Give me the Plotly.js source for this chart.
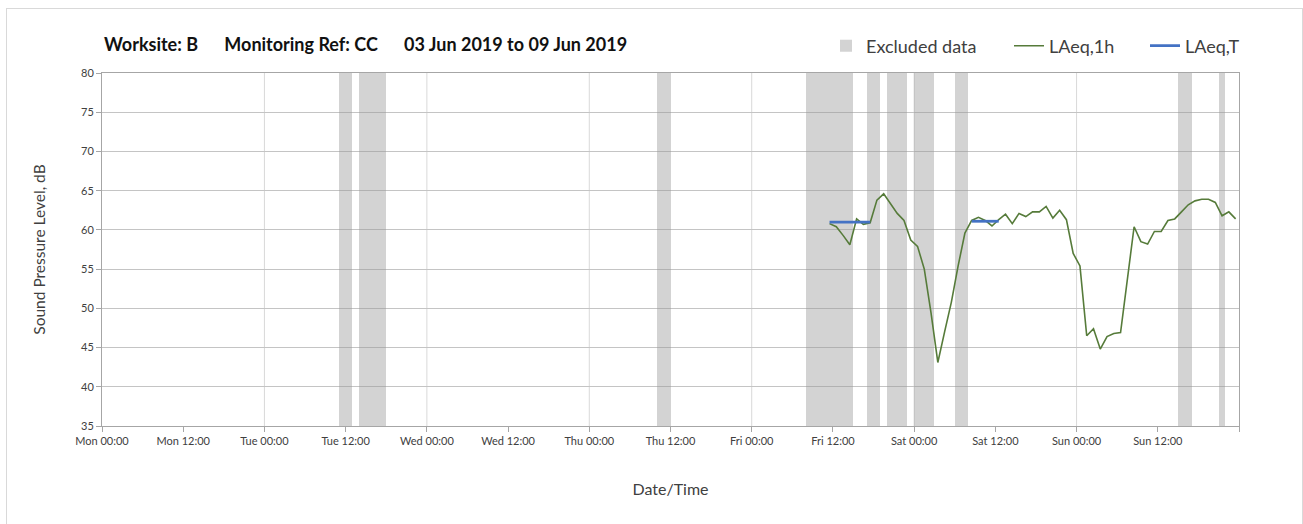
<!DOCTYPE html>
<html>
<head>
<meta charset="utf-8">
<script src="https://cdn.plot.ly/plotly-3.0.1.min.js"></script>
<style>
  html, body { margin: 0; padding: 0; background: #ffffff; }
  #wrap { position: relative; width: 1303px; height: 524px; overflow: hidden; }
  #chart { position: absolute; left: 0; top: 0; width: 1303px; height: 524px; }
  #frame { position: absolute; left: 6px; top: 8px; width: 1295px; height: 540px;
           border: 1px solid #d9d9d9; pointer-events: none; }
</style>
</head>
<body>
<div id="wrap">
  <div id="chart"></div>
  <div id="frame"></div>
</div>
<script>
// ---------- DATA ----------
const titleParts = ["Worksite: B", "Monitoring Ref: CC", "03 Jun 2019 to 09 Jun 2019"];

// Hourly LAeq,1h values (time stamps, dB)
const laeq1hTimes = [
  "2019-06-07 11:30","2019-06-07 12:30","2019-06-07 13:30","2019-06-07 14:30","2019-06-07 15:30",
  "2019-06-07 16:30","2019-06-07 17:30","2019-06-07 18:30","2019-06-07 19:30","2019-06-07 20:30",
  "2019-06-07 21:30","2019-06-07 22:30","2019-06-07 23:30",
  "2019-06-08 00:30","2019-06-08 01:30","2019-06-08 02:30","2019-06-08 03:30","2019-06-08 04:30",
  "2019-06-08 05:30","2019-06-08 06:30","2019-06-08 07:30","2019-06-08 08:30","2019-06-08 09:30",
  "2019-06-08 10:30","2019-06-08 11:30","2019-06-08 12:30","2019-06-08 13:30","2019-06-08 14:30",
  "2019-06-08 15:30","2019-06-08 16:30","2019-06-08 17:30","2019-06-08 18:30","2019-06-08 19:30",
  "2019-06-08 20:30","2019-06-08 21:30","2019-06-08 22:30","2019-06-08 23:30",
  "2019-06-09 00:30","2019-06-09 01:30","2019-06-09 02:30","2019-06-09 03:30","2019-06-09 04:30",
  "2019-06-09 05:30","2019-06-09 06:30","2019-06-09 07:30","2019-06-09 08:30","2019-06-09 09:30",
  "2019-06-09 10:30","2019-06-09 11:30","2019-06-09 12:30","2019-06-09 13:30","2019-06-09 14:30",
  "2019-06-09 15:30","2019-06-09 16:30","2019-06-09 17:30","2019-06-09 18:30","2019-06-09 19:30",
  "2019-06-09 20:30","2019-06-09 21:30","2019-06-09 22:30","2019-06-09 23:30"
];
const laeq1hValues = [
  60.8, 60.4, 59.3, 58.1, 61.4, 60.7, 60.9, 63.8, 64.6, 63.4, 62.1, 61.2, 58.7,
  57.9, 55.0, 49.4, 43.1, 47.0, 50.8, 55.4, 59.6, 61.2, 61.6, 61.2, 60.5,
  61.3, 62.0, 60.8, 62.1, 61.7, 62.3, 62.3, 63.0, 61.5, 62.5, 61.3, 57.0,
  55.4, 46.5, 47.4, 44.8, 46.4, 46.8, 46.9, 54.0, 60.4, 58.5, 58.2, 59.8,
  59.8, 61.2, 61.4, 62.3, 63.2, 63.7, 63.9, 63.9, 63.5, 61.8, 62.3, 61.4
];

// LAeq,T periods
const laeqTStart = ["2019-06-07 11:30", "2019-06-08 08:30"];
const laeqTEnd   = ["2019-06-07 17:30", "2019-06-08 12:30"];
const laeqTValue = [61.0, 61.1];

// Excluded data periods
const excludedStart = [
  "2019-06-04 11:00","2019-06-04 14:00","2019-06-06 10:00","2019-06-07 08:00","2019-06-07 17:00",
  "2019-06-07 20:00","2019-06-08 00:00","2019-06-08 06:00","2019-06-09 15:00","2019-06-09 21:00"
];
const excludedEnd = [
  "2019-06-04 13:00","2019-06-04 18:00","2019-06-06 12:00","2019-06-07 15:00","2019-06-07 19:00",
  "2019-06-07 23:00","2019-06-08 03:00","2019-06-08 08:00","2019-06-09 17:00","2019-06-09 22:00"
];

// Axis ticks
const xTickVals = [
  "2019-06-03 00:00","2019-06-03 12:00","2019-06-04 00:00","2019-06-04 12:00","2019-06-05 00:00",
  "2019-06-05 12:00","2019-06-06 00:00","2019-06-06 12:00","2019-06-07 00:00","2019-06-07 12:00",
  "2019-06-08 00:00","2019-06-08 12:00","2019-06-09 00:00","2019-06-09 12:00","2019-06-10 00:00"
];
const xTickText = [
  "Mon 00:00","Mon 12:00","Tue 00:00","Tue 12:00","Wed 00:00","Wed 12:00","Thu 00:00","Thu 12:00",
  "Fri 00:00","Fri 12:00","Sat 00:00","Sat 12:00","Sun 00:00","Sun 12:00",""
];
const yTickVals = [35, 40, 45, 50, 55, 60, 65, 70, 75, 80];
const xRange = ["2019-06-03 00:00", "2019-06-10 00:00"];
const yRange = [35, 80];

// ---------- BUILD ----------
function utc(s) { return Date.parse(s.replace(" ", "T") + ":00Z"); }

const bandCenters = excludedStart.map((s, i) => (utc(s) + utc(excludedEnd[i])) / 2);
const bandWidths  = excludedStart.map((s, i) => utc(excludedEnd[i]) - utc(s));
const bandHeights = excludedStart.map(() => yRange[1] - yRange[0]);

const tX = [], tY = [];
laeqTStart.forEach((s, i) => {
  if (i > 0) { tX.push(null); tY.push(null); }
  tX.push(s, laeqTEnd[i]); tY.push(laeqTValue[i], laeqTValue[i]);
});

// vertical day grid lines (interior midnights)
const dayLines = xTickVals.filter((v, i) => v.endsWith("00:00") && i > 0 && i < xTickVals.length - 1);
const gridShapes = dayLines.map(d => ({
  type: "line", xref: "x", yref: "paper", x0: d, x1: d, y0: 0, y1: 1,
  layer: "below", line: { color: "#d9d9d9", width: 1 }
}));

const FONT = "Lato, 'Open Sans', sans-serif";
const GAP = "\u00a0\u00a0\u00a0\u00a0\u00a0\u00a0";

const traces = [
  {
    type: "bar", name: "Excluded data",
    x: bandCenters, y: bandHeights, base: yRange[0], width: bandWidths,
    marker: { color: "rgba(150,150,150,0.42)", line: { width: 0 } },
    legendwidth: 138, hoverinfo: "skip"
  },
  {
    type: "scatter", mode: "lines", name: "LAeq,1h",
    x: laeq1hTimes, y: laeq1hValues,
    line: { color: "#567b3a", width: 1.6 },
    legendwidth: 91
  },
  {
    type: "scatter", mode: "lines", name: "LAeq,T",
    x: tX, y: tY, connectgaps: false,
    line: { color: "#4472c4", width: 2.8 }
  }
];

const layout = {
  width: 1303, height: 524,
  margin: { l: 102, r: 64, t: 73, b: 98 },
  paper_bgcolor: "#ffffff", plot_bgcolor: "#ffffff",
  font: { family: FONT, color: "#404040", size: 11 },
  title: {
    text: "<b>" + titleParts.join(GAP) + "</b>",
    x: 104 / 1303, xanchor: "left", xref: "container",
    y: 1 - 45 / 524, yanchor: "middle", yref: "container",
    font: { family: FONT, size: 18, color: "#111111" }
  },
  showlegend: true,
  legend: {
    orientation: "h", x: (826 - 102) / 1137, xanchor: "left",
    y: 1 + 27 / 353, yanchor: "middle",
    font: { family: FONT, size: 18, color: "#404040" },
    bgcolor: "rgba(0,0,0,0)", traceorder: "normal"
  },
  bargap: 0,
  shapes: gridShapes,
  xaxis: {
    type: "date", range: xRange,
    tickvals: xTickVals, ticktext: xTickText,
    showgrid: false, zeroline: false,
    showline: true, linecolor: "#a6a6a6", linewidth: 1, mirror: true,
    ticks: "outside", ticklen: 5, tickcolor: "#a6a6a6",
    tickfont: { family: FONT, size: 11, color: "#404040" },
    title: { text: "Date/Time", standoff: 37, font: { family: FONT, size: 16, color: "#404040" } },
    fixedrange: true
  },
  yaxis: {
    range: yRange, tickvals: yTickVals,
    showgrid: true, gridcolor: "#c4c4c4", gridwidth: 1, zeroline: false,
    showline: true, linecolor: "#a6a6a6", linewidth: 1, mirror: true,
    ticks: "outside", ticklen: 5, tickcolor: "#a6a6a6",
    tickfont: { family: FONT, size: 11, color: "#404040" },
    title: { text: "Sound Pressure Level, dB", standoff: 31, font: { family: FONT, size: 15.5, color: "#404040" } },
    fixedrange: true
  }
};

Plotly.newPlot("chart", traces, layout, { staticPlot: true, displayModeBar: false });
</script>
</body>
</html>
